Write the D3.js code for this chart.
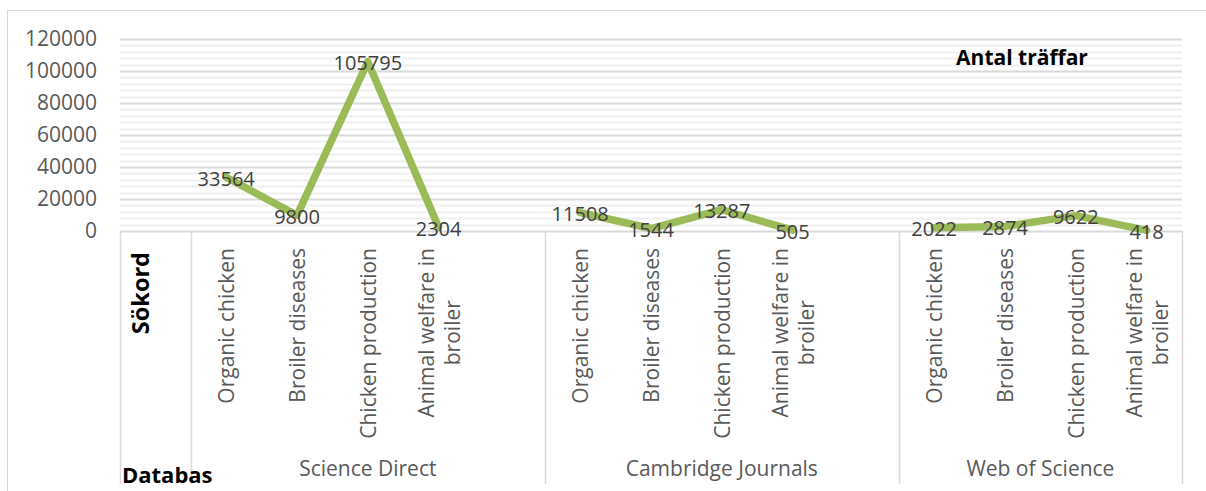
<!DOCTYPE html>
<html>
<head>
<meta charset="utf-8">
<script src="https://cdn.jsdelivr.net/npm/d3@7"></script>
<style>
  html, body { margin: 0; padding: 0; background: #fff; }
  svg { display: block; }
  text { font-family: "Open Sans", sans-serif; }
</style>
</head>
<body>
<svg id="chart" width="1206" height="491"></svg>
<script>
// ---- data ----
const databases = ["Science Direct", "Cambridge Journals", "Web of Science"];
const searchTerms = ["Organic chicken", "Broiler diseases", "Chicken production", "Animal welfare in broiler"];
const scienceDirect = [33564, 9800, 105795, 2304];
const cambridgeJournals = [11508, 1544, 13287, 505];
const webOfScience = [2022, 2874, 9622, 418];
const yTicks = [0, 20000, 40000, 60000, 80000, 100000, 120000];
const headerLevel1 = "Sökord";
const headerLevel2 = "Databas";
const title = "Antal träffar";

// build slot list (header slot, then groups with a blank slot between groups)
const seriesByDb = [scienceDirect, cambridgeJournals, webOfScience];
const slots = [{ key: "header", value: null, label: "", db: null }];
databases.forEach((db, gi) => {
  searchTerms.forEach((t, ti) => {
    slots.push({ key: db + "|" + t, value: seriesByDb[gi][ti], label: t, db });
  });
  if (gi < databases.length - 1) slots.push({ key: db + "|blank", value: null, label: "", db });
});

const svg = d3.select("#chart");
const W = 1206, H = 491;
const plot = { left: 120, right: 1182, top: 39, bottom: 231 };
const axisBottom = 484;

const x = d3.scaleBand().domain(slots.map(s => s.key)).range([plot.left, plot.right]).padding(0);
const y = d3.scaleLinear().domain([0, 120000]).range([plot.bottom, plot.top]);

// outer border
svg.append("rect").attr("x", 7.5).attr("y", 10.5).attr("width", W + 20).attr("height", H + 20)
  .attr("fill", "none").attr("stroke", "#d9d9d9").attr("stroke-width", 1);

// minor gridlines
const minor = d3.range(0, 120001, 4000).filter(v => v % 20000 !== 0);
svg.append("g").selectAll("line").data(minor).join("line")
  .attr("x1", plot.left).attr("x2", plot.right)
  .attr("y1", d => Math.round(y(d)) + 0.5).attr("y2", d => Math.round(y(d)) + 0.5)
  .attr("stroke", "#efefef").attr("stroke-width", 2);
// major gridlines
svg.append("g").selectAll("line").data(yTicks.filter(v => v > 0)).join("line")
  .attr("x1", plot.left).attr("x2", plot.right)
  .attr("y1", d => Math.round(y(d)) + 0.5).attr("y2", d => Math.round(y(d)) + 0.5)
  .attr("stroke", "#d9d9d9").attr("stroke-width", 2);

// y axis labels
const yAxis = d3.axisLeft(y).tickValues(yTicks).tickSize(0).tickPadding(23).tickFormat(d3.format("d"));
const gy = svg.append("g").attr("transform", `translate(${plot.left},0)`).call(yAxis);
gy.select(".domain").remove();
gy.selectAll("text").attr("font-size", 21).attr("fill", "#595959").attr("font-family", "Open Sans, sans-serif");

// category axis line and separators
svg.append("line").attr("x1", plot.left).attr("x2", plot.right)
  .attr("y1", plot.bottom + 0.5).attr("y2", plot.bottom + 0.5)
  .attr("stroke", "#d9d9d9").attr("stroke-width", 2);

const sepXs = [plot.left, x(slots[1].key)];
databases.forEach((db, gi) => {
  const gs = slots.filter(s => s.db === db);
  sepXs.push(x(gs[gs.length - 1].key) + x.bandwidth());
});
svg.append("g").selectAll("line").data(sepXs).join("line")
  .attr("x1", d => Math.round(d) + 0.5).attr("x2", d => Math.round(d) + 0.5)
  .attr("y1", plot.bottom).attr("y2", axisBottom)
  .attr("stroke", "#d9d9d9").attr("stroke-width", 1.5);

// category labels (rotated)
const labelTop = 248;
const catG = svg.append("g");
slots.filter(s => s.label).forEach(s => {
  const cx = x(s.key) + x.bandwidth() / 2;
  const lines = s.label === "Animal welfare in broiler" ? ["Animal welfare in", "broiler"] : [s.label];
  const g = catG.append("g");
  const texts = lines.map((ln, i) => g.append("text").text(ln)
    .attr("font-size", 21).attr("fill", "#595959").attr("text-anchor", "middle")
    .attr("dominant-baseline", "central"));
  const maxLen = d3.max(texts, t => t.node().getComputedTextLength());
  const lh = 26;
  texts.forEach((t, i) => {
    const off = (i - (lines.length - 1) / 2) * lh;
    t.attr("transform", `translate(${cx + off},${labelTop + maxLen / 2}) rotate(-90)`);
  });
});

// header labels
svg.append("text").text(headerLevel1)
  .attr("transform", `translate(140,${252}) rotate(-90)`)
  .attr("text-anchor", "end").attr("dominant-baseline", "central")
  .attr("font-size", 23.5).attr("font-weight", "bold").attr("fill", "#000");
svg.append("text").text(headerLevel2)
  .attr("x", 122).attr("y", 483)
  .attr("font-size", 22).attr("font-weight", "bold").attr("fill", "#000");

// database group labels
databases.forEach(db => {
  const gs = slots.filter(s => s.db === db);
  const x0 = x(gs[0].key), x1 = x(gs[gs.length - 1].key) + x.bandwidth();
  svg.append("text").text(db)
    .attr("x", (x0 + x1) / 2).attr("y", 476)
    .attr("text-anchor", "middle").attr("font-size", 21).attr("fill", "#595959");
});

// line
const line = d3.line()
  .defined(s => s.value !== null)
  .x(s => x(s.key) + x.bandwidth() / 2)
  .y(s => y(s.value));
svg.append("path").datum(slots.slice(1)).attr("d", line)
  .attr("fill", "none").attr("stroke", "#9bbb59").attr("stroke-width", 7.5)
  .attr("stroke-linejoin", "round").attr("stroke-linecap", "round");

// data labels
svg.append("g").selectAll("text").data(slots.filter(s => s.value !== null)).join("text")
  .attr("x", s => x(s.key) + x.bandwidth() / 2)
  .attr("y", s => y(s.value) + 1)
  .attr("text-anchor", "middle").attr("dominant-baseline", "central")
  .attr("font-size", 20).attr("fill", "#404040")
  .text(s => s.value);

// title
svg.append("text").text(title)
  .attr("x", 1022).attr("y", 57)
  .attr("text-anchor", "middle").attr("dominant-baseline", "central")
  .attr("font-size", 21).attr("font-weight", "bold").attr("fill", "#000");
</script>
</body>
</html>
